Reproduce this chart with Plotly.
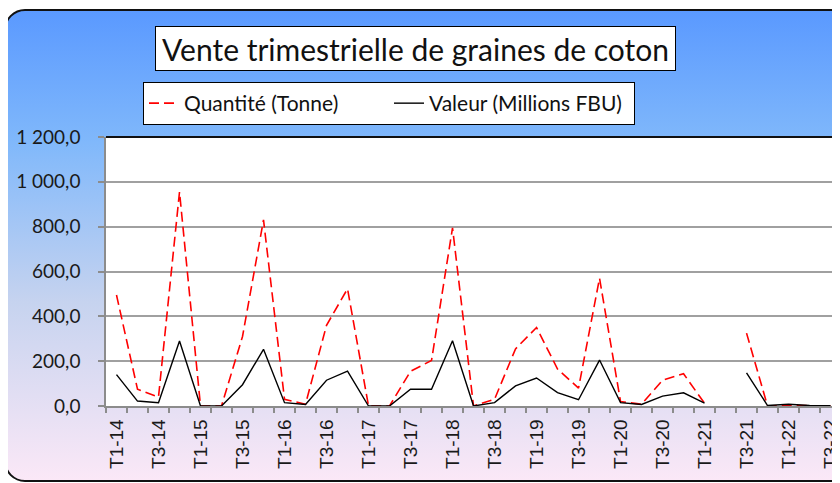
import base64
import plotly.graph_objects as go

categories = ["T1-14", "T2-14", "T3-14", "T4-14",
              "T1-15", "T2-15", "T3-15", "T4-15",
              "T1-16", "T2-16", "T3-16", "T4-16",
              "T1-17", "T2-17", "T3-17", "T4-17",
              "T1-18", "T2-18", "T3-18", "T4-18",
              "T1-19", "T2-19", "T3-19", "T4-19",
              "T1-20", "T2-20", "T3-20", "T4-20",
              "T1-21", "T2-21", "T3-21", "T4-21",
              "T1-22", "T2-22", "T3-22"]
tick_labels = ["T1-14", "", "T3-14", "", "T1-15", "", "T3-15", "",
               "T1-16", "", "T3-16", "", "T1-17", "", "T3-17", "",
               "T1-18", "", "T3-18", "", "T1-19", "", "T3-19", "",
               "T1-20", "", "T3-20", "", "T1-21", "", "T3-21", "",
               "T1-22", "", "T3-22"]
quantite = [495, 75, 40, 955, 0, 0, 310, 830, 30,
            8, 360, 523, 0, 0, 155, 203, 795, 0, 30, 255, 350, 165,
            80, 570, 20, 8, 115, 144, 12, None, 325, 0, 3, 0, 0]
valeur = [140, 22, 15, 290, 0, 0, 95, 253, 15,
          7, 115, 156, 0, 0, 75, 75, 291, 0, 15, 90, 125, 60,
          28, 205, 15, 7, 44, 59, 13, None, 148, 2, 8, 2, 1]
y_ticks = [0, 200, 400, 600, 800, 1000, 1200]

# the page body has an 8px margin, so the figure is drawn 8px in from the window corner
OFF = 8
W, H = 840 - OFF, 483 - OFF
PL, PR, PT, PB = 106, 840, 137, 406          # plot area, in window pixels
L, T = PL - OFF, PT - OFF
R, B = (840 - OFF) - (PR - OFF), H - (PB - OFF)
pw, ph = PR - PL, PB - PT


def px(x):
    return (x - PL) / pw


def py(y):
    return (PB - y) / ph


svg = f'''<svg xmlns="http://www.w3.org/2000/svg" width="900" height="483" viewBox="0 0 900 483" preserveAspectRatio="none">
<defs><linearGradient id="g" x1="0" y1="0" x2="0" y2="1">
<stop offset="0" stop-color="#5a99ff"/>
<stop offset="0.28" stop-color="#80b8fb"/>
<stop offset="0.62" stop-color="#c6d3ef"/>
<stop offset="1" stop-color="#fbe8f7"/>
</linearGradient></defs>
<rect x="0" y="0" width="900" height="483" fill="#ffffff"/>
<rect x="5" y="10" width="1000" height="471" rx="20" ry="20" fill="url(#g)" stroke="#111111" stroke-width="2"/>
</svg>'''
src = "data:image/svg+xml;base64," + base64.b64encode(svg.encode()).decode()

fig = go.Figure()
fig.add_trace(go.Scatter(x=categories, y=quantite, mode="lines", name="Quantité (Tonne)",
                         line=dict(color="#ff0000", width=1.6, dash="10px,5px")))
fig.add_trace(go.Scatter(x=categories, y=valeur, mode="lines", name="Valeur (Millions FBU)",
                         line=dict(color="#000000", width=1.4)))

fig.update_layout(
    width=W, height=H,
    margin=dict(l=L, r=R, t=T, b=B, autoexpand=False),
    paper_bgcolor="white", plot_bgcolor="rgba(0,0,0,0)",
    separators=", ",
    showlegend=True,
    legend=dict(orientation="h", x=px(143), y=py(82),
                xanchor="left", yanchor="top",
                bgcolor="white", bordercolor="black", borderwidth=1,
                font=dict(family="Lato", size=21, color="#111111"),
                itemwidth=30, tracegroupgap=0,
                entrywidthmode="pixels", entrywidth=200),
    images=[dict(source=src, xref="paper", yref="paper",
                 x=px(0), y=py(0), sizex=900 / pw, sizey=483 / ph,
                 xanchor="left", yanchor="top", sizing="stretch", layer="below")],
    shapes=[
        dict(type="rect", xref="paper", yref="paper", x0=0, x1=1.01, y0=0, y1=1,
             fillcolor="white", line=dict(width=0), layer="below"),
        dict(type="line", xref="paper", yref="paper", x0=0, x1=1.01, y0=1, y1=1,
             line=dict(color="#111111", width=2), layer="above"),
    ],
    annotations=[dict(text="Vente trimestrielle de graines de coton",
                      xref="paper", yref="paper",
                      x=px(415.5), y=py(48.5),
                      xanchor="center", yanchor="middle", showarrow=False,
                      font=dict(family="Lato", size=30, color="#111111"),
                      bgcolor="white", bordercolor="black", borderwidth=1,
                      width=513, height=37, borderpad=3)],
)

fig.update_xaxes(type="category", tickmode="array", tickvals=categories, ticktext=tick_labels,
                 tickson="boundaries", ticks="outside", ticklen=5, tickcolor="#8c8c8c", tickwidth=1.5,
                 showline=True, linecolor="#8c8c8c", linewidth=1.5, showgrid=False,
                 tickangle=-90, range=[-0.5, 34.45], automargin=False, ticklabelstandoff=4,
                 tickfont=dict(family="Liberation Sans", size=19, color="#1a1a1a"))
fig.update_yaxes(range=[0, 1200], tickmode="array", tickvals=y_ticks, tickformat=",.1f",
                 ticks="outside", ticklen=6, tickcolor="#8c8c8c", tickwidth=1.5,
                 showline=True, linecolor="#8c8c8c", linewidth=1.5, automargin=False,
                 showgrid=True, gridcolor="#a0a0a0", gridwidth=1.5, zeroline=False,
                 ticklabelstandoff=14,
                 tickfont=dict(family="Lato", size=19, color="#1a1a1a"))

fig.write_html("out.html")
